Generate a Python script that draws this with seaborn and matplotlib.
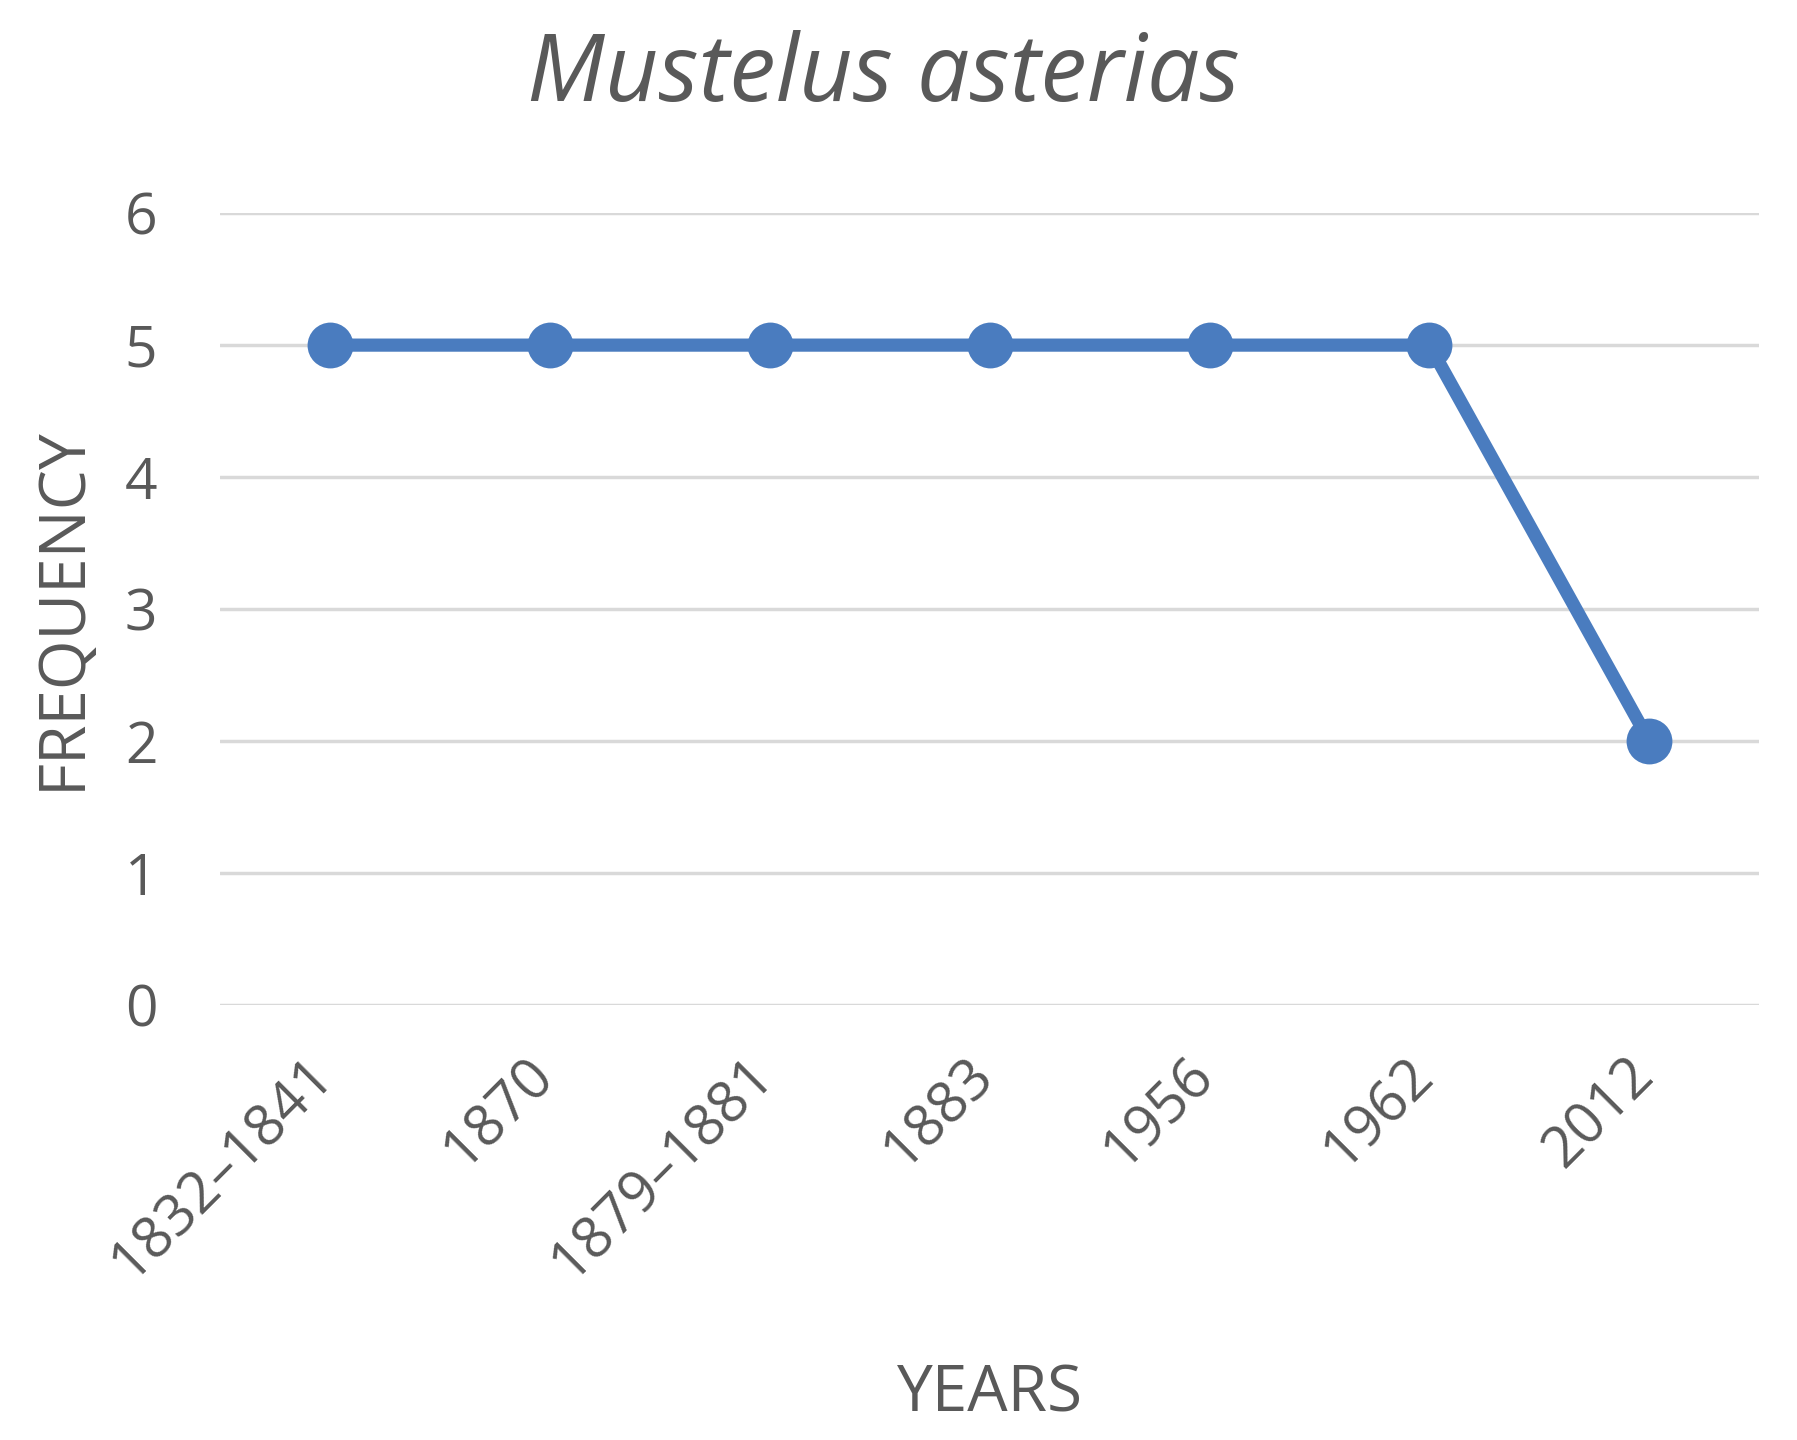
import matplotlib
matplotlib.use("Agg")
import matplotlib.pyplot as plt
import matplotlib.transforms as mtransforms
import seaborn as sns
import pandas as pd

# Data
years = ["1832–1841", "1870", "1879–1881", "1883", "1956", "1962", "2012"]
frequency = [5, 5, 5, 5, 5, 5, 2]

df = pd.DataFrame({"Years": years, "Frequency": frequency})

sns.set_theme(style="white")
plt.rcParams['font.family'] = ['Open Sans', 'DejaVu Sans']

text_gray = "#595959"
line_blue = "#4a7cbf"

fig = plt.figure(figsize=(17.97, 14.40), dpi=100)
ax = fig.add_axes([0.1224, 0.302, 0.979 - 0.1224, 0.852 - 0.302])

sns.lineplot(data=df, x="Years", y="Frequency", ax=ax, color=line_blue,
             linewidth=9.5, marker="o", markersize=33, markeredgewidth=0,
             sort=False, clip_on=False, zorder=3)

ax.set_xlim(-0.5, len(years) - 0.5)
ax.set_ylim(0, 6)
ax.set_yticks(range(0, 7))

# Gridlines only, no spines
ax.grid(axis="y", color="#d9d9d9", linewidth=2.5)
ax.grid(axis="x", visible=False)
for s in ax.spines.values():
    s.set_visible(False)
ax.tick_params(axis="both", length=0, labelsize=41, labelcolor=text_gray)
ax.tick_params(axis="y", pad=45)

plt.setp(ax.get_xticklabels(), rotation=45, ha="right", va="center",
         rotation_mode="anchor")
offset = mtransforms.ScaledTranslation(-0.04, -0.57, fig.dpi_scale_trans)
for lbl in ax.get_xticklabels():
    lbl.set_transform(lbl.get_transform() + offset)

ax.set_xlabel("")
ax.set_ylabel("")
fig.text(0.551, 1 - 1395 / 1440, "YEARS", ha="center", va="center",
         fontsize=46, color=text_gray)
fig.text(63 / 1797, 1 - 608 / 1440, "FREQUENCY", ha="center", va="center",
         rotation=90, fontsize=46, color=text_gray)

fig.text(883 / 1797, 1 - 76 / 1440, "Mustelus asterias", ha="center",
         va="center", fontsize=67, style="italic", color=text_gray)

fig.savefig("out.png", dpi=100, facecolor="white")
